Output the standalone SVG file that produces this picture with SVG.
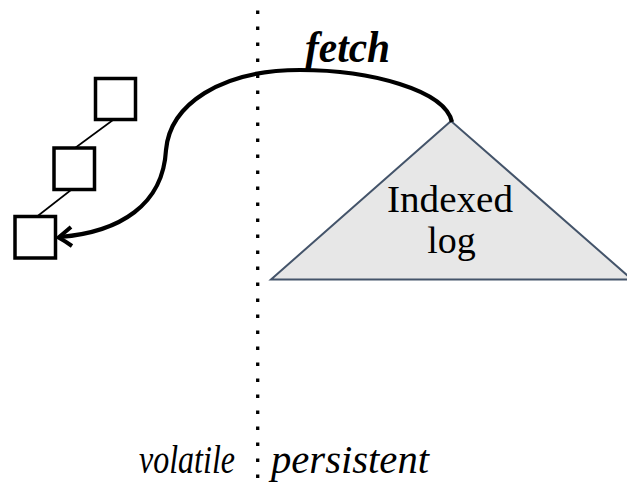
<svg xmlns="http://www.w3.org/2000/svg" width="627" height="484" viewBox="0 0 627 484">
<defs>
<style>
.box{fill:#fff;stroke:#000;stroke-width:3.5}
.link{stroke:#000;stroke-width:1.6;fill:none}
.serif{font-family:"Liberation Serif","DejaVu Serif",serif;font-size:38px;fill:#000}
.it{font-family:"Liberation Serif","DejaVu Serif",serif;font-style:italic;font-size:40px;fill:#000}
</style>
</defs>
<rect width="627" height="484" fill="#fff"/>
<g id="divider">
<line x1="257.7" y1="10.6" x2="257.7" y2="480" stroke="#000" stroke-width="3.3" stroke-dasharray="3.3 12.7"/>
</g>
<g id="log">
<polygon points="451,121 271,279.5 632,279.5" fill="#e7e7e7" stroke="#44546a" stroke-width="2"/>
<text class="serif" x="450" y="211.5" text-anchor="middle" textLength="126" lengthAdjust="spacingAndGlyphs">Indexed</text>
<text class="serif" x="451.5" y="252.5" text-anchor="middle">log</text>
</g>
<g id="box1"><rect class="box" x="95.5" y="78.5" width="40" height="41"/></g>
<g id="box2"><rect class="box" x="54" y="148" width="40.5" height="41.5"/></g>
<g id="box3"><rect class="box" x="15" y="216.5" width="40.5" height="41.5"/></g>
<g id="connectors">
<line class="link" x1="113" y1="120" x2="75" y2="148"/>
<line class="link" x1="71" y1="190" x2="37" y2="216.5"/>
<path d="M452,122 C445,90 370,70 300,70 C220,70 170,105 166,150 C163,205 120,232 60,237" fill="none" stroke="#000" stroke-width="4.2"/>
<path d="M71,227 Q64,233 58.5,237.5 Q65,241 72,246" fill="none" stroke="#000" stroke-width="4" stroke-linejoin="miter"/>
</g>
<g id="labels">
<text x="305" y="62" font-family="'Liberation Serif','DejaVu Serif',serif" font-style="italic" font-weight="bold" font-size="44" textLength="85" lengthAdjust="spacingAndGlyphs">fetch</text>
<text class="it" x="139" y="473" font-size="37" textLength="96" lengthAdjust="spacingAndGlyphs">volatile</text>
<text class="it" x="271" y="473" textLength="158" lengthAdjust="spacingAndGlyphs">persistent</text>
</g>
</svg>
